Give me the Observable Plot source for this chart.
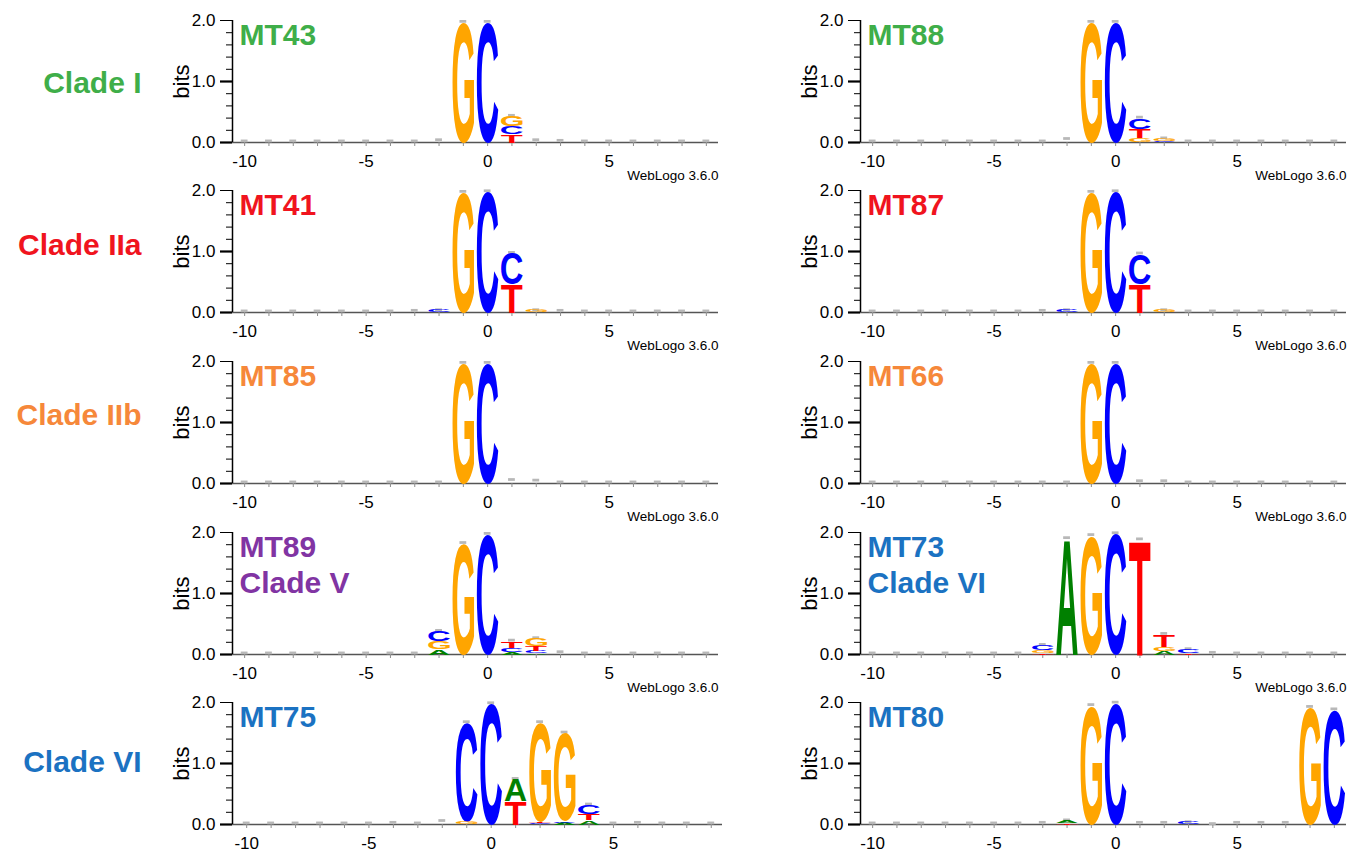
<!DOCTYPE html>
<html><head><meta charset="utf-8">
<script src="https://cdn.jsdelivr.net/npm/d3@7"></script>
<script src="https://cdn.jsdelivr.net/npm/@observablehq/plot@0.6"></script>
<style>
html,body{margin:0;padding:0;background:#fff;overflow:hidden;}
#root{position:relative;width:1347px;height:850px;overflow:hidden;font-family:"Liberation Sans",Arial,sans-serif;}
</style></head><body><div id="root"></div>
<script>
// ---------- data ----------
const positions = [-10,-9,-8,-7,-6,-5,-4,-3,-2,-1,0,1,2,3,4,5,6,7,8,9];
const xTickLabels = [-10,-5,0,5];
const yMajorTicks = [0,1,2];
const yMinorTicks = [0.2,0.4,0.6,0.8,1.2,1.4,1.6,1.8];
const bases = ["A","C","G","T"];
const baseColors = {A:"#008000", C:"#0000ff", G:"#ffa500", T:"#ff0000"};

// letters: [position, base, bits] stacked bottom -> top in listed order
const mt43Letters = [[-1,"G",1.97],[0,"C",1.97],[1,"T",0.13],[1,"C",0.13],[1,"G",0.17]];
const mt43Background = [0.01,0.01,0.01,0.01,0.01,0.01,0.01,0.01,0.03,0,0,0,0.03,0.02,0.01,0.01,0.01,0.01,0.01,0.01];

const mt88Letters = [[-1,"G",1.97],[0,"C",1.97],[1,"G",0.07],[1,"T",0.15],[1,"C",0.18],[2,"C",0.02],[2,"G",0.04]];
const mt88Background = [0.01,0.01,0.01,0.01,0.01,0.01,0.01,0.01,0.05,0,0,0,0,0.01,0.01,0.01,0.01,0.01,0.01,0.01];

const mt41Letters = [[-2,"C",0.03],[-1,"G",1.97],[0,"C",1.98],[1,"T",0.46],[1,"C",0.51],[2,"G",0.03]];
const mt41Background = [0.01,0.01,0.01,0.01,0.01,0.01,0.01,0.02,0,0,0,0,0,0.02,0.01,0.01,0.01,0.01,0.01,0.01];

const mt87Letters = [[-2,"C",0.03],[-1,"G",1.97],[0,"C",1.98],[1,"T",0.46],[1,"C",0.5],[2,"G",0.03]];
const mt87Background = [0.01,0.01,0.01,0.01,0.01,0.01,0.01,0.02,0,0,0,0,0,0.01,0.01,0.01,0.01,0.01,0.01,0.01];

const mt85Letters = [[-1,"G",1.97],[0,"C",1.97]];
const mt85Background = [0.01,0.01,0.01,0.01,0.01,0.01,0.01,0.01,0.01,0,0,0.05,0.04,0.01,0.01,0.01,0.01,0.01,0.01,0.01];

const mt66Letters = [[-1,"G",1.97],[0,"C",1.97]];
const mt66Background = [0.01,0.01,0.01,0.01,0.01,0.01,0.01,0.01,0.01,0,0,0.03,0.03,0.01,0.01,0.01,0.01,0.01,0.01,0.01];

const mt89Letters = [[-2,"A",0.09],[-2,"G",0.13],[-2,"C",0.16],[-1,"G",1.82],[0,"C",1.97],
  [1,"A",0.04],[1,"C",0.07],[1,"T",0.11],[2,"A",0.02],[2,"C",0.03],[2,"T",0.08],[2,"G",0.13]];
const mt89Background = [0.01,0.01,0.01,0.01,0.01,0.01,0.01,0.01,0,0,0,0,0,0.03,0.01,0.01,0.01,0.01,0.01,0.01];

const mt73Letters = [[-3,"T",0.02],[-3,"G",0.05],[-3,"C",0.08],[-2,"A",1.9],[-1,"G",1.95],[0,"C",1.98],
  [1,"T",1.88],[2,"A",0.06],[2,"G",0.07],[2,"T",0.2],[3,"T",0.02],[3,"C",0.06]];
const mt73Background = [0.01,0.01,0.01,0.01,0.01,0.01,0.01,0,0,0,0,0,0,0,0.02,0.01,0.01,0.01,0.01,0.01];

const mt75Letters = [[-1,"G",0.04],[-1,"C",1.63],[0,"C",1.98],[1,"T",0.38],[1,"A",0.36],
  [2,"C",0.02],[2,"T",0.02],[2,"G",1.63],[3,"A",0.03],[3,"C",0.02],[3,"G",1.45],
  [4,"A",0.07],[4,"T",0.1],[4,"C",0.15]];
const mt75Background = [0.01,0.01,0.01,0.01,0.01,0.01,0.02,0.01,0.05,0,0,0,0,0,0,0.01,0.02,0.01,0.01,0.01];

const mt80Letters = [[-2,"T",0.02],[-2,"A",0.04],[-1,"G",1.95],[0,"C",1.99],[3,"C",0.03],[8,"G",1.92],[9,"C",1.88]];
const mt80Background = [0.01,0.01,0.01,0.01,0.01,0.01,0.01,0.02,0,0,0,0.02,0.02,0,0.0,0.02,0.02,0.02,0,0];

const panelTitles = ["MT43","MT88","MT41","MT87","MT85","MT66","MT89\nClade V","MT73\nClade VI","MT75","MT80"];
const outerClades = ["Clade I", null, "Clade IIa", null, "Clade IIb", null, null, null, "Clade VI", null];
const caption = "WebLogo 3.6.0";

// ---------- styling / layout ----------
const green = "#3fae49", red = "#f0141e", orange = "#f6883a", purple = "#8134a3", blue = "#1b72c2";
const panelColors = [green, green, red, red, orange, orange, purple, blue, blue, blue];
const panelLetters = [mt43Letters, mt88Letters, mt41Letters, mt87Letters, mt85Letters, mt66Letters, mt89Letters, mt73Letters, mt75Letters, mt80Letters];
const panelBackground = [mt43Background, mt88Background, mt41Background, mt87Background, mt85Background, mt66Background, mt89Background, mt73Background, mt75Background, mt80Background];
const rowTops = [0, 170, 341, 512, 682];
const outerOffsets = [63, 55, 54, 0, 60];
const columns = [
  {left: 0, width: 730, marginLeft: 232, marginRight: 12, domain: [-10.5, 9.5]},
  {left: 740, width: 607, marginLeft: 120, marginRight: 1, domain: [-10.5, 9.5]}
];
const font = '"Liberation Sans", Arial, sans-serif';
const halfWidth = 0.445;

const ctx = document.createElement("canvas").getContext("2d");
ctx.font = 'bold 100px "Liberation Sans"';
const metrics = {};
for (const b of bases) {
  const m = ctx.measureText(b);
  let left = m.actualBoundingBoxLeft, right = m.actualBoundingBoxRight;
  let asc = m.actualBoundingBoxAscent, desc = m.actualBoundingBoxDescent;
  if (!(right + left > 0) || !(asc + desc > 0)) { left = -4; right = m.width - 4; asc = 72; desc = 1; }
  metrics[b] = {left, right, asc, desc};
}

const root = document.getElementById("root");

panelTitles.forEach((title, k) => {
  const row = Math.floor(k / 2), col = k % 2;
  const c = columns[col];
  let domain = c.domain, marginRight = c.marginRight;
  if (k === 8) { domain = [-10.58, 9.46]; marginRight = 8; }

  const stacked = [];
  const sums = new Map();
  for (const [pos, base, bits] of panelLetters[k]) {
    const y1 = sums.get(pos) || 0;
    stacked.push({pos, base, y1, y2: y1 + bits});
    sums.set(pos, y1 + bits);
  }
  const caps = positions.map((pos, i) => ({pos, top: sums.has(pos) ? sums.get(pos) : panelBackground[k][i]}));
  const byBase = {};
  for (const b of bases) byBase[b] = stacked.filter(d => d.base === b);

  const marks = [
    Plot.ruleY([0], {stroke: "#555", strokeWidth: 1.5}),
    Plot.axisX({ticks: positions, tickSize: 4, stroke: "#8c8c8c", tickFormat: () => ""}),
    Plot.axisX({ticks: xTickLabels, tickSize: 0, tickPadding: 12, tickFormat: d => String(d), fontSize: 17, fill: "#000"}),
    Plot.axisY({ticks: yMinorTicks, tickSize: 6, tickFormat: () => "", stroke: "#000"}),
    Plot.axisY({ticks: [0, 1], tickSize: 12, strokeWidth: 2.2, tickFormat: () => "", stroke: "#000"}),
    Plot.axisY({ticks: yMajorTicks, tickSize: 12, tickPadding: 5, tickFormat: d3.format(".1f"), fontSize: 17, stroke: "#000", fill: "#000"}),
    Plot.ruleX([domain[0]], {y1: 0, y2: 2, stroke: "#000", strokeWidth: 1.5}),
    Plot.rect(caps, {x1: d => d.pos - 0.14, x2: d => d.pos + 0.14, y1: d => d.top - 0.015, y2: d => d.top + 0.03, fill: "#b8b8b8"}),
    ...bases.map(b => Plot.text(byBase[b], {x: "pos", y: "y1", text: "base", fill: baseColors[b]})),
    Plot.text(["bits"], {frameAnchor: "left", rotate: -90, dx: -51, fontSize: 22, textAnchor: "middle", lineAnchor: "middle", fill: "#000"}),
    Plot.text([title], {frameAnchor: "top-left", dx: 7, lineAnchor: "top", textAnchor: "start", fontSize: 30, fontWeight: "bold", fill: panelColors[k], lineHeight: 1.17}),
    Plot.text([caption], {frameAnchor: "bottom-right", dy: 33, lineAnchor: "middle", textAnchor: "end", fontSize: 13.5, fill: "#000"})
  ];
  if (outerClades[k]) {
    marks.push(Plot.text([outerClades[k]], {frameAnchor: "top-left", dx: -91, dy: outerOffsets[row], lineAnchor: "middle", textAnchor: "end", fontSize: 30, fontWeight: "bold", fill: panelColors[k]}));
  }

  const chart = Plot.plot({
    width: c.width, height: 190,
    marginLeft: c.marginLeft, marginRight, marginTop: 20, marginBottom: 48,
    x: {domain, label: null},
    y: {domain: [0, 2], label: null},
    style: {background: "transparent", overflow: "visible", fontFamily: font},
    marks
  });
  chart.style.position = "absolute";
  chart.style.left = c.left + "px";
  chart.style.top = rowTops[row] + "px";
  chart.style.maxWidth = "none";
  root.appendChild(chart);

  const xs = chart.scale("x"), ys = chart.scale("y");
  const allTexts = Array.from(chart.querySelectorAll("text"));
  for (const b of bases) {
    const els = allTexts.filter(el => el.textContent === b);
    const m = metrics[b];
    const inkW = m.left + m.right;
    const inkH = m.asc + m.desc;
    els.forEach((el, i) => {
      const d = byBase[b][i];
      if (!d) return;
      const px1 = xs.apply(d.pos - halfWidth), px2 = xs.apply(d.pos + halfWidth);
      const yb = ys.apply(d.y1), yt = ys.apply(d.y2);
      const sx = (px2 - px1) / inkW, sy = (yb - yt) / inkH;
      el.removeAttribute("dy");
      el.setAttribute("x", 0);
      el.setAttribute("y", 0);
      el.setAttribute("font-size", 100);
      el.setAttribute("font-family", '"Liberation Sans"');
      el.setAttribute("font-weight", "bold");
      el.setAttribute("text-anchor", "start");
      el.setAttribute("transform", `translate(${px1},${yt}) scale(${sx},${sy}) translate(${m.left},${m.asc})`);
    });
  }
});
</script></body></html>
